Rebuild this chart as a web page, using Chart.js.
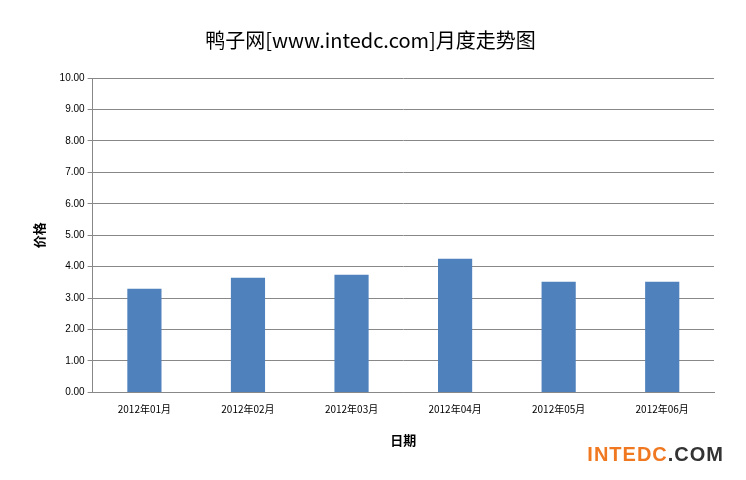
<!DOCTYPE html>
<html><head><meta charset="utf-8">
<script src="https://cdn.jsdelivr.net/npm/chart.js@4"></script>
<style>body{margin:0;background:#fff}#wrap{position:relative;width:746px;height:480px}
#logo{position:absolute;right:22px;bottom:14px;font:bold 20px "Liberation Sans",Arial;color:#f07820;letter-spacing:1px}
#logo span{color:#333}</style></head>
<body><div id="wrap"><canvas id="c" width="746" height="480"></canvas><div id="logo">INTEDC<span>.COM</span></div></div>
<script>
const labels = ["2012年01月","2012年02月","2012年03月","2012年04月","2012年05月","2012年06月"];
const prices = [3.30, 3.65, 3.74, 4.25, 3.52, 3.52];
new Chart(document.getElementById("c"), {
  type: "bar",
  data: { labels: labels, datasets: [{ label: "价格", data: prices, backgroundColor: "#4f81bd", barPercentage: 0.33, categoryPercentage: 1 }] },
  options: {
    responsive: false, animation: false,
    layout: { padding: { left: 27, right: 32, top: 0, bottom: 28 } },
    plugins: {
      legend: { display: false },
      title: { display: true, text: "鸭子网[www.intedc.com]月度走势图", color: "#000", font: { family: "Noto Sans CJK SC", size: 20, weight: "normal" }, padding: { top: 28, bottom: 26 } }
    },
    scales: {
      x: { grid: { display: false }, border: { color: "#888" },
           ticks: { color: "#000", font: { family: "Noto Sans CJK SC", size: 10 } },
           title: { display: true, text: "日期", color: "#000", font: { family: "Noto Sans CJK SC", size: 13, weight: "bold" }, padding: { top: 14 } } },
      y: { min: 0, max: 10, border: { color: "#888" },
           grid: { color: "#888", tickLength: 5 },
           ticks: { stepSize: 1, color: "#000", font: { family: "Liberation Sans", size: 10 }, callback: v => v.toFixed(2) },
           title: { display: true, text: "价格", color: "#000", font: { family: "Noto Sans CJK SC", size: 13, weight: "bold" }, padding: { bottom: 10 } } }
    }
  }
});
</script></body></html>
